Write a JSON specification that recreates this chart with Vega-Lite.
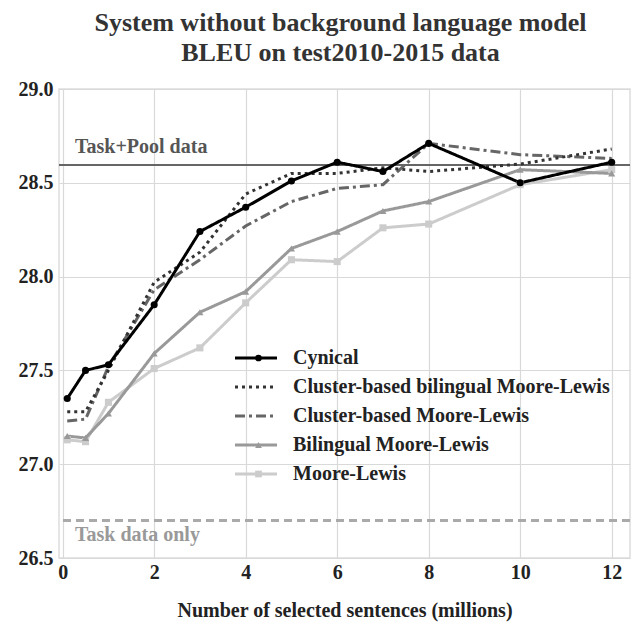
{
  "$schema": "https://vega.github.io/schema/vega-lite/v6.json",
  "width": 571,
  "height": 469,
  "autosize": {"type": "none"},
  "padding": {"left": 59, "top": 89, "right": 10, "bottom": 65},
  "background": "white",
  "title": {
    "text": ["System without background language model", "BLEU on test2010-2015 data"],
    "font": "Liberation Serif",
    "fontSize": 26,
    "fontWeight": "bold",
    "color": "#333333",
    "anchor": "middle",
    "offset": 13,
    "lineHeight": 30,
    "dx": -4
  },
  "config": {
    "font": "Liberation Serif",
    "view": {"stroke": "#dddddd", "strokeWidth": 1.5},
    "axis": {
      "labelFont": "Liberation Serif",
      "labelFontSize": 20,
      "labelFontWeight": "bold",
      "labelColor": "#222222",
      "ticks": false,
      "domain": false,
      "gridColor": "#d9d9d9",
      "gridWidth": 1.2,
      "titleFont": "Liberation Serif",
      "titleFontSize": 20,
      "titleFontWeight": "bold",
      "titleColor": "#222222"
    }
  },
  "datasets": {
    "refs": [
      {"ref": "Task+Pool data", "bleu": 28.595},
      {"ref": "Task data only", "bleu": 26.7}
    ],
    "bleu": [
      {"series": "Moore-Lewis", "marker": "Moore-Lewis", "x": 0.1, "bleu": 27.13},
      {"series": "Moore-Lewis", "marker": "Moore-Lewis", "x": 0.5, "bleu": 27.12},
      {"series": "Moore-Lewis", "marker": "Moore-Lewis", "x": 1, "bleu": 27.33},
      {"series": "Moore-Lewis", "marker": "Moore-Lewis", "x": 2, "bleu": 27.51},
      {"series": "Moore-Lewis", "marker": "Moore-Lewis", "x": 3, "bleu": 27.62},
      {"series": "Moore-Lewis", "marker": "Moore-Lewis", "x": 4, "bleu": 27.86},
      {"series": "Moore-Lewis", "marker": "Moore-Lewis", "x": 5, "bleu": 28.09},
      {"series": "Moore-Lewis", "marker": "Moore-Lewis", "x": 6, "bleu": 28.08},
      {"series": "Moore-Lewis", "marker": "Moore-Lewis", "x": 7, "bleu": 28.26},
      {"series": "Moore-Lewis", "marker": "Moore-Lewis", "x": 8, "bleu": 28.28},
      {"series": "Moore-Lewis", "marker": "Moore-Lewis", "x": 10, "bleu": 28.49},
      {"series": "Moore-Lewis", "marker": "Moore-Lewis", "x": 12, "bleu": 28.57},
      {"series": "Bilingual Moore-Lewis", "marker": "Bilingual Moore-Lewis", "x": 0.1, "bleu": 27.15},
      {"series": "Bilingual Moore-Lewis", "marker": "Bilingual Moore-Lewis", "x": 0.5, "bleu": 27.14},
      {"series": "Bilingual Moore-Lewis", "marker": "Bilingual Moore-Lewis", "x": 1, "bleu": 27.27},
      {"series": "Bilingual Moore-Lewis", "marker": "Bilingual Moore-Lewis", "x": 2, "bleu": 27.59},
      {"series": "Bilingual Moore-Lewis", "marker": "Bilingual Moore-Lewis", "x": 3, "bleu": 27.81},
      {"series": "Bilingual Moore-Lewis", "marker": "Bilingual Moore-Lewis", "x": 4, "bleu": 27.92},
      {"series": "Bilingual Moore-Lewis", "marker": "Bilingual Moore-Lewis", "x": 5, "bleu": 28.15},
      {"series": "Bilingual Moore-Lewis", "marker": "Bilingual Moore-Lewis", "x": 6, "bleu": 28.24},
      {"series": "Bilingual Moore-Lewis", "marker": "Bilingual Moore-Lewis", "x": 7, "bleu": 28.35},
      {"series": "Bilingual Moore-Lewis", "marker": "Bilingual Moore-Lewis", "x": 8, "bleu": 28.40},
      {"series": "Bilingual Moore-Lewis", "marker": "Bilingual Moore-Lewis", "x": 10, "bleu": 28.57},
      {"series": "Bilingual Moore-Lewis", "marker": "Bilingual Moore-Lewis", "x": 12, "bleu": 28.55},
      {"series": "Cluster-based Moore-Lewis", "marker": "Cluster-based Moore-Lewis", "x": 0.1, "bleu": 27.23},
      {"series": "Cluster-based Moore-Lewis", "marker": "Cluster-based Moore-Lewis", "x": 0.5, "bleu": 27.24},
      {"series": "Cluster-based Moore-Lewis", "marker": "Cluster-based Moore-Lewis", "x": 1, "bleu": 27.52},
      {"series": "Cluster-based Moore-Lewis", "marker": "Cluster-based Moore-Lewis", "x": 2, "bleu": 27.93},
      {"series": "Cluster-based Moore-Lewis", "marker": "Cluster-based Moore-Lewis", "x": 3, "bleu": 28.09},
      {"series": "Cluster-based Moore-Lewis", "marker": "Cluster-based Moore-Lewis", "x": 4, "bleu": 28.27},
      {"series": "Cluster-based Moore-Lewis", "marker": "Cluster-based Moore-Lewis", "x": 5, "bleu": 28.40},
      {"series": "Cluster-based Moore-Lewis", "marker": "Cluster-based Moore-Lewis", "x": 6, "bleu": 28.47},
      {"series": "Cluster-based Moore-Lewis", "marker": "Cluster-based Moore-Lewis", "x": 7, "bleu": 28.49},
      {"series": "Cluster-based Moore-Lewis", "marker": "Cluster-based Moore-Lewis", "x": 8, "bleu": 28.71},
      {"series": "Cluster-based Moore-Lewis", "marker": "Cluster-based Moore-Lewis", "x": 10, "bleu": 28.65},
      {"series": "Cluster-based Moore-Lewis", "marker": "Cluster-based Moore-Lewis", "x": 12, "bleu": 28.63},
      {"series": "Cluster-based bilingual Moore-Lewis", "marker": "Cluster-based bilingual Moore-Lewis", "x": 0.1, "bleu": 27.28},
      {"series": "Cluster-based bilingual Moore-Lewis", "marker": "Cluster-based bilingual Moore-Lewis", "x": 0.5, "bleu": 27.28},
      {"series": "Cluster-based bilingual Moore-Lewis", "marker": "Cluster-based bilingual Moore-Lewis", "x": 1, "bleu": 27.50},
      {"series": "Cluster-based bilingual Moore-Lewis", "marker": "Cluster-based bilingual Moore-Lewis", "x": 2, "bleu": 27.97},
      {"series": "Cluster-based bilingual Moore-Lewis", "marker": "Cluster-based bilingual Moore-Lewis", "x": 3, "bleu": 28.13},
      {"series": "Cluster-based bilingual Moore-Lewis", "marker": "Cluster-based bilingual Moore-Lewis", "x": 4, "bleu": 28.44},
      {"series": "Cluster-based bilingual Moore-Lewis", "marker": "Cluster-based bilingual Moore-Lewis", "x": 5, "bleu": 28.55},
      {"series": "Cluster-based bilingual Moore-Lewis", "marker": "Cluster-based bilingual Moore-Lewis", "x": 6, "bleu": 28.55},
      {"series": "Cluster-based bilingual Moore-Lewis", "marker": "Cluster-based bilingual Moore-Lewis", "x": 7, "bleu": 28.58},
      {"series": "Cluster-based bilingual Moore-Lewis", "marker": "Cluster-based bilingual Moore-Lewis", "x": 8, "bleu": 28.56},
      {"series": "Cluster-based bilingual Moore-Lewis", "marker": "Cluster-based bilingual Moore-Lewis", "x": 10, "bleu": 28.60},
      {"series": "Cluster-based bilingual Moore-Lewis", "marker": "Cluster-based bilingual Moore-Lewis", "x": 12, "bleu": 28.68},
      {"series": "Cynical", "marker": "Cynical", "x": 0.1, "bleu": 27.35},
      {"series": "Cynical", "marker": "Cynical", "x": 0.5, "bleu": 27.50},
      {"series": "Cynical", "marker": "Cynical", "x": 1, "bleu": 27.53},
      {"series": "Cynical", "marker": "Cynical", "x": 2, "bleu": 27.85},
      {"series": "Cynical", "marker": "Cynical", "x": 3, "bleu": 28.24},
      {"series": "Cynical", "marker": "Cynical", "x": 4, "bleu": 28.37},
      {"series": "Cynical", "marker": "Cynical", "x": 5, "bleu": 28.51},
      {"series": "Cynical", "marker": "Cynical", "x": 6, "bleu": 28.61},
      {"series": "Cynical", "marker": "Cynical", "x": 7, "bleu": 28.56},
      {"series": "Cynical", "marker": "Cynical", "x": 8, "bleu": 28.71},
      {"series": "Cynical", "marker": "Cynical", "x": 10, "bleu": 28.50},
      {"series": "Cynical", "marker": "Cynical", "x": 12, "bleu": 28.61}
    ]
  },
  "layer": [
    {
      "data": {"name": "refs"},
      "transform": [{"filter": "datum.ref === 'Task+Pool data'"}],
      "mark": {"type": "rule", "color": "#666666", "strokeWidth": 2},
      "encoding": {
        "y": {"field": "bleu", "type": "quantitative", "scale": {"domain": [26.5, 29], "nice": false, "zero": false}}
      }
    },
    {
      "data": {"name": "refs"},
      "transform": [{"filter": "datum.ref === 'Task data only'"}],
      "mark": {"type": "rule", "color": "#aaaaaa", "strokeWidth": 3, "strokeDash": [8, 5]},
      "encoding": {
        "y": {"field": "bleu", "type": "quantitative"}
      }
    },
    {
      "data": {"name": "refs"},
      "transform": [{"filter": "datum.ref === 'Task+Pool data'"}],
      "mark": {"type": "text", "align": "left", "baseline": "alphabetic", "dy": -12, "fontSize": 20, "fontWeight": "bold", "font": "Liberation Serif", "color": "#555555"},
      "encoding": {
        "x": {"datum": 0.27, "type": "quantitative"},
        "y": {"field": "bleu", "type": "quantitative"},
        "text": {"field": "ref"}
      }
    },
    {
      "data": {"name": "refs"},
      "transform": [{"filter": "datum.ref === 'Task data only'"}],
      "mark": {"type": "text", "align": "left", "baseline": "alphabetic", "dy": 21, "fontSize": 20, "fontWeight": "bold", "font": "Liberation Serif", "color": "#999999"},
      "encoding": {
        "x": {"datum": 0.27, "type": "quantitative"},
        "y": {"field": "bleu", "type": "quantitative"},
        "text": {"field": "ref"}
      }
    },
    {
      "data": {"name": "bleu"},
      "mark": {"type": "line", "strokeWidth": 3},
      "encoding": {
        "x": {
          "field": "x", "type": "quantitative",
          "scale": {"domain": [-0.08, 12.4], "nice": false, "zero": false},
          "axis": {"values": [0, 2, 4, 6, 8, 10, 12], "labelPadding": 4, "title": "Number of selected sentences (millions)", "titlePadding": 18, "grid": true}
        },
        "y": {
          "field": "bleu", "type": "quantitative",
          "axis": {"values": [26.5, 27, 27.5, 28, 28.5, 29], "format": ".1f", "labelPadding": 6, "title": null, "grid": true}
        },
        "color": {
          "field": "series", "type": "nominal",
          "scale": {
            "domain": ["Cynical", "Cluster-based bilingual Moore-Lewis", "Cluster-based Moore-Lewis", "Bilingual Moore-Lewis", "Moore-Lewis"],
            "range": ["#000000", "#333333", "#666666", "#999999", "#cccccc"]
          },
          "legend": {
            "orient": "none", "legendX": 187, "legendY": 259, "title": null,
            "symbolType": "M-4.2,0H4.2", "symbolSize": 100, "symbolStrokeWidth": 3,
            "labelFont": "Liberation Serif", "labelFontSize": 20, "labelFontWeight": "bold", "labelColor": "#222222",
            "labelOffset": 27, "rowPadding": 9, "labelLimit": 500
          }
        },
        "strokeDash": {
          "field": "series", "type": "nominal",
          "scale": {
            "domain": ["Cynical", "Cluster-based bilingual Moore-Lewis", "Cluster-based Moore-Lewis", "Bilingual Moore-Lewis", "Moore-Lewis"],
            "range": [[1, 0], [3, 4], [10, 4, 3, 4], [1, 0], [1, 0]]
          }
        }
      }
    },
    {
      "data": {"name": "bleu"},
      "mark": {"type": "point", "filled": true, "size": 50, "opacity": 1, "strokeWidth": 0},
      "encoding": {
        "x": {"field": "x", "type": "quantitative"},
        "y": {"field": "bleu", "type": "quantitative"},
        "fill": {
          "field": "marker", "type": "nominal",
          "scale": {
            "domain": ["Cynical", "Cluster-based bilingual Moore-Lewis", "Cluster-based Moore-Lewis", "Bilingual Moore-Lewis", "Moore-Lewis", "none"],
            "range": ["#000000", "#333333", "#666666", "#999999", "#cccccc", "#ffffff"]
          }
        },
        "shape": {
          "field": "marker", "type": "nominal",
          "scale": {
            "domain": ["Cynical", "Cluster-based bilingual Moore-Lewis", "Cluster-based Moore-Lewis", "Bilingual Moore-Lewis", "Moore-Lewis", "none"],
            "range": ["circle", "M0,0", "M0,0", "triangle-up", "square", "M0,0"]
          },
          "legend": {
            "orient": "none", "legendX": 189.5, "legendY": 259, "title": null,
            "symbolSize": 45, "symbolStrokeWidth": 0,
            "labelFont": "Liberation Serif", "labelFontSize": 20, "labelFontWeight": "bold",
            "labelExpr": "''",
            "rowPadding": 9, "labelLimit": 500
          }
        }
      }
    }
  ]
}
